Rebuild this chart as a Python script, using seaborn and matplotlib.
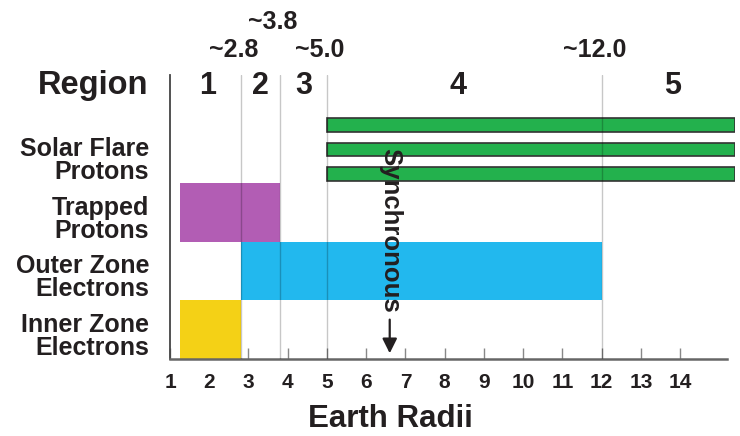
import matplotlib.pyplot as plt
import seaborn as sns
import pandas as pd

# particle populations and the Earth-radii span each one covers
particles = ["Inner Zone\nElectrons", "Outer Zone\nElectrons", "Trapped\nProtons", "Solar Flare\nProtons"]
starts = [1.25, 2.8, 1.25, 5.0]
ends = [2.8, 12.0, 3.8, 15.4]
colors = ["#f4d116", "#22b8ee", "#b25db4", "#23b14d"]

# region boundaries and labels
boundaries = [2.8, 3.8, 5.0, 12.0]
boundary_labels = ["~2.8", "~3.8", "~5.0", "~12.0"]
regions = ["1", "2", "3", "4", "5"]
region_centers = [1.95, 3.3, 4.4, 8.35, 13.8]

synchronous = 6.6
x_ticks = list(range(1, 15))

sns.set_style("white")
plt.rcParams['font.family'] = ['Liberation Sans', 'DejaVu Sans']
txt = "#231f20"

df = pd.DataFrame({"particle": particles, "start": starts, "end": ends, "color": colors})

fig = plt.figure(figsize=(7.4, 4.36), dpi=100)
ax = fig.add_axes([170 / 740, 77 / 436, 565 / 740, 284 / 436])

# lower three populations fill a full band each
for i, row in df.iloc[:3].iterrows():
    ax.barh(i, row["end"] - row["start"], left=row["start"], height=1.0, align="edge",
            color=row["color"], linewidth=0, zorder=2)

# solar flare protons drawn as three thin bars
sf = df.iloc[3]
for k in range(3):
    ax.barh(3.16 + 0.42 * k, sf["end"] - sf["start"], left=sf["start"], height=0.23,
            color=sf["color"], edgecolor="#333333", linewidth=1.2, zorder=2)

for b in boundaries:
    ax.axvline(b, color="k", alpha=0.22, lw=1, zorder=3)

ax.set_xlim(1, 15.4)
ax.set_ylim(0, 4.85)

for lab, b in zip(boundary_labels, boundaries):
    y = 5.76 if lab == "~3.8" else 5.28
    ax.text(b - 0.18, y, lab, ha="center", va="center", fontsize=18, fontweight="bold",
            color=txt, clip_on=False)

for r, xc in zip(regions, region_centers):
    ax.text(xc, 4.67, r, ha="center", va="center", fontsize=22, fontweight="bold", color=txt)
ax.text(0.44, 4.67, "Region", ha="right", va="center", fontsize=23.5, fontweight="bold",
        color=txt, clip_on=False)

# synchronous orbit marker
ax.text(synchronous, 2.2, "Synchronous", rotation=-90, ha="center", va="center",
        fontsize=18.5, fontweight="bold", color=txt, zorder=4)
ax.annotate("", xy=(synchronous, 0.05), xytext=(synchronous, 0.72),
            arrowprops=dict(arrowstyle="-|>", color=txt, lw=1.6, mutation_scale=22), zorder=4)

ax.set_yticks([0.42, 1.42, 2.42, 3.42])
ax.set_yticklabels(particles, fontsize=18, fontweight="bold", color=txt, linespacing=0.95)
ax.tick_params(axis="y", length=0, pad=15)

ax.set_xticks(x_ticks)
ax.set_xticklabels([str(t) for t in x_ticks], fontsize=15, fontweight="bold", color=txt)
ax.tick_params(axis="x", direction="in", length=8, width=1, color="#888888", pad=10, bottom=True)

ax.set_xlabel("Earth Radii", fontsize=22.5, fontweight="bold", color=txt)
ax.xaxis.set_label_coords(0.39, -0.16)

sns.despine(ax=ax, top=True, right=True)
ax.spines["left"].set_color("#444444")
ax.spines["bottom"].set_color("#666666")
ax.spines["left"].set_linewidth(1.3)
ax.spines["bottom"].set_linewidth(1.8)
ax.spines["bottom"].set_bounds(1, 15.2)

plt.savefig("out.png", dpi=100)
